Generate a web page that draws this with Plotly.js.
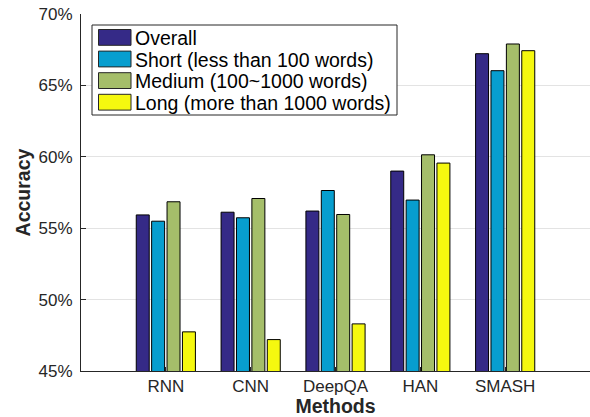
<!DOCTYPE html>
<html>
<head>
<meta charset="utf-8">
<script src="https://cdn.plot.ly/plotly-3.0.1.min.js"></script>
<style>
html,body{margin:0;padding:0;background:#fff;}
#chart{width:590px;height:417px;}
</style>
</head>
<body>
<div id="chart"></div>
<script>
// ---- data ----
const methods = ['RNN', 'CNN', 'DeepQA', 'HAN', 'SMASH'];
const seriesNames = ['Overall', 'Short (less than 100 words)', 'Medium (100~1000 words)', 'Long (more than 1000 words)'];
const overall = [55.93, 56.12, 56.20, 59.00, 67.22];
const shortDocs = [55.49, 55.73, 57.64, 56.97, 66.03];
const mediumDocs = [56.85, 57.08, 55.96, 60.14, 67.90];
const longDocs = [47.74, 47.20, 48.30, 59.56, 67.43];
const yTicks = [45, 50, 55, 60, 65, 70];

// ---- styles ----
const colors = ['#352a87', '#079ecf', '#a5be6a', '#f5f80f'];
const seriesValues = [overall, shortDocs, mediumDocs, longDocs];
const FONT = 'Liberation Sans, Arial, Helvetica, sans-serif';
const DARK = '#262626';

const traces = seriesValues.map((vals, i) => ({
  type: 'bar',
  x: methods,
  y: vals,
  name: seriesNames[i],
  marker: {color: colors[i], line: {color: '#000000', width: 1}},
  showlegend: false,
  hoverinfo: 'x+y'
}));

// plot area in pixels (for placing the legend box)
const L = 81, T = 14, W = 509, H = 357;
const px = x => (x - L) / W;
const py = y => (T + H - y) / H;

const shapes = [{
  type: 'rect', xref: 'paper', yref: 'paper',
  x0: px(92), x1: px(397), y0: py(115), y1: py(25),
  line: {color: DARK, width: 1}, fillcolor: '#ffffff', layer: 'above'
}];
const annotations = [];
const rowH = 21.6, firstTop = 29.5, swH = 15.8;
seriesNames.forEach((nm, i) => {
  const top = firstTop + i * rowH;
  shapes.push({
    type: 'rect', xref: 'paper', yref: 'paper',
    x0: px(98.5), x1: px(131), y0: py(top + swH), y1: py(top),
    line: {color: DARK, width: 1}, fillcolor: colors[i], layer: 'above'
  });
  annotations.push({
    xref: 'paper', yref: 'paper', x: px(133), y: py(top + swH / 2 + 0.5),
    xanchor: 'left', yanchor: 'middle', showarrow: false, text: nm,
    font: {family: FONT, size: 19.5, color: '#000000'}
  });
});

const layout = {
  width: 590, height: 417,
  margin: {l: L, r: 0, t: T, b: 417 - T - H},
  paper_bgcolor: '#ffffff', plot_bgcolor: '#ffffff',
  barmode: 'group', bargap: 0.274, bargroupgap: 0.157,
  font: {family: FONT, color: DARK},
  showlegend: false,
  xaxis: {
    type: 'category', range: [-1, 5], fixedrange: true,
    showline: true, linecolor: DARK, linewidth: 1,
    ticks: 'inside', ticklen: 4, tickcolor: DARK,
    showgrid: false, zeroline: false,
    tickfont: {family: FONT, size: 17, color: DARK},
    title: {text: '<b>Methods</b>', font: {family: FONT, size: 19.5, color: DARK}, standoff: 3}
  },
  yaxis: {
    range: [45, 70], tickvals: yTicks, ticktext: yTicks.map(v => v + '%'),
    showline: true, linecolor: DARK, linewidth: 1,
    ticks: 'inside', ticklen: 5, tickcolor: DARK,
    showgrid: true, gridcolor: '#e3e3e3', gridwidth: 1, zeroline: false,
    tickfont: {family: FONT, size: 17, color: DARK},
    ticklabelstandoff: 4,
    title: {text: '<b>Accuracy</b>', font: {family: FONT, size: 19.5, color: DARK}, standoff: 2}
  },
  shapes: shapes,
  annotations: annotations
};

Plotly.newPlot('chart', traces, layout, {staticPlot: true, displayModeBar: false});
</script>
</body>
</html>
